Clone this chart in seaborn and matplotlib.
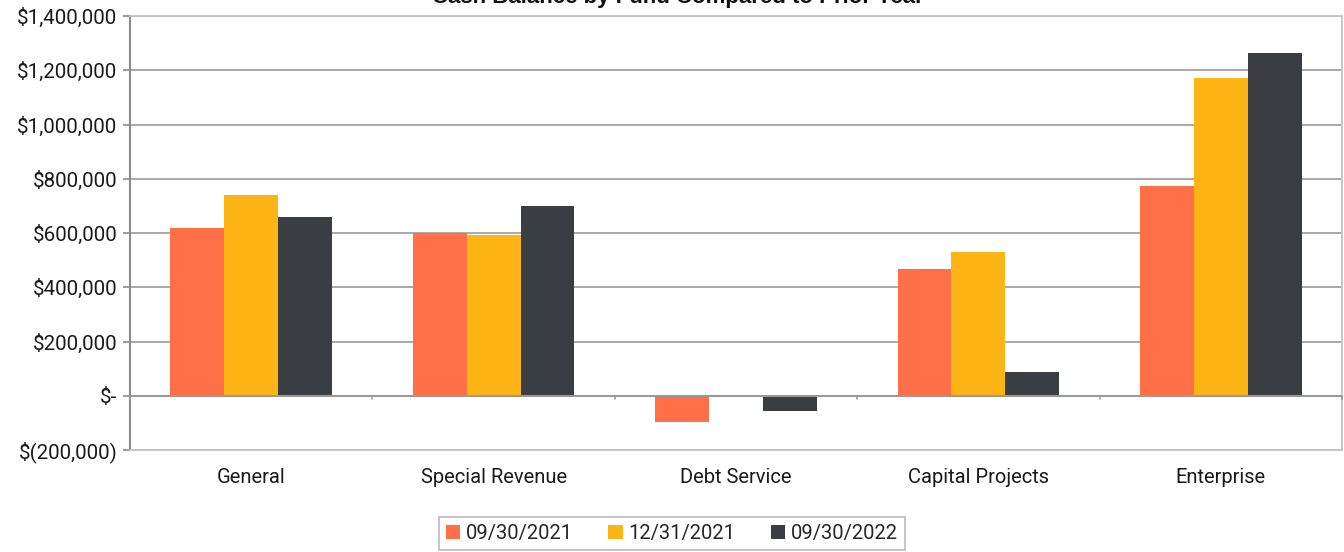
import matplotlib
matplotlib.use("Agg")
import matplotlib.pyplot as plt
import seaborn as sns
import pandas as pd
from matplotlib.patches import Patch
from matplotlib.ticker import FuncFormatter

categories = ["General", "Special Revenue", "Debt Service", "Capital Projects", "Enterprise"]
series_names = ["09/30/2021", "12/31/2021", "09/30/2022"]
s2021_09 = [620000, 600000, -95000, 468000, 775000]
s2021_12 = [741000, 593000, 0, 529000, 1172000]
s2022_09 = [659000, 699000, -58000, 86000, 1264000]
colors = ["#FF6F48", "#FDB515", "#3A3E42"]
title = "Cash Balance by Fund Compared to Prior Year"

rows = []
for name, vals in zip(series_names, [s2021_09, s2021_12, s2022_09]):
    for c, v in zip(categories, vals):
        rows.append({"Fund": c, "Date": name, "Value": v})
df = pd.DataFrame(rows)

sns.set_theme(style="white")
plt.rcParams["font.family"] = ["Roboto", "DejaVu Sans"]

fig = plt.figure(figsize=(13.44, 5.52), dpi=100)
ax = fig.add_axes([130/1344, 1-450/552, (1342-130)/1344, (450-16)/552])

sns.barplot(data=df, x="Fund", y="Value", hue="Date", order=categories,
            hue_order=series_names, palette=colors, width=0.667, gap=0,
            saturation=1, ax=ax, legend=False, edgecolor="none", zorder=3)

ax.set_ylim(-200000, 1400000)
ax.set_xlim(-0.5, 4.5)
ax.set_yticks(range(-200000, 1400001, 200000))

def fmt(v, pos):
    if v == 0:
        return "$-"
    if v < 0:
        return "$({:,.0f})".format(-v)
    return "${:,.0f}".format(v)
ax.yaxis.set_major_formatter(FuncFormatter(fmt))

ax.yaxis.grid(True, color="#a3a3a3", linewidth=1.3, zorder=0)
ax.set_axisbelow(True)
ax.set_xlabel("")
ax.set_ylabel("")

for s in ["top", "right", "bottom"]:
    ax.spines[s].set_color("#c4c4c4")
    ax.spines[s].set_linewidth(1.3)
ax.spines["left"].set_color("#8c8c8c")
ax.spines["left"].set_linewidth(1.5)
ax.axhline(0, color="#999999", linewidth=1.5, zorder=4)

ax.tick_params(axis="y", which="major", left=True, length=5, width=1.2,
               color="#8c8c8c", labelsize=14.8, labelcolor="#1a1a1a", pad=4)
ax.tick_params(axis="x", which="major", bottom=False, labelsize=14.5,
               labelcolor="#1a1a1a", pad=7)
ax.set_xticks([i - 0.5 for i in range(len(categories) + 1)], minor=True)
ax.tick_params(axis="x", which="minor", bottom=False)
for xb in [i - 0.5 for i in range(len(categories) + 1)]:
    ax.plot([xb, xb], [0, -12000], color="#999999", linewidth=1.2,
            zorder=4, clip_on=False)

handles = [Patch(facecolor=c, edgecolor="none", label=n) for c, n in zip(colors, series_names)]
leg = fig.legend(handles=handles, loc="center", bbox_to_anchor=(672/1344, 1-533.5/552),
                 ncol=3, frameon=True, fontsize=14.5, handlelength=0.7, handleheight=0.7,
                 handletextpad=0.3, columnspacing=1.75, borderpad=0.35, borderaxespad=0,
                 fancybox=False)
leg.get_frame().set_edgecolor("#b0b0b0")
leg.get_frame().set_linewidth(1.3)

fig.text(678/1344, 1-3/552, title, ha="center", va="baseline", fontsize=16,
         fontweight="bold", family=["Liberation Sans", "DejaVu Sans"], color="#111111")

fig.savefig("out.png", dpi=100)
